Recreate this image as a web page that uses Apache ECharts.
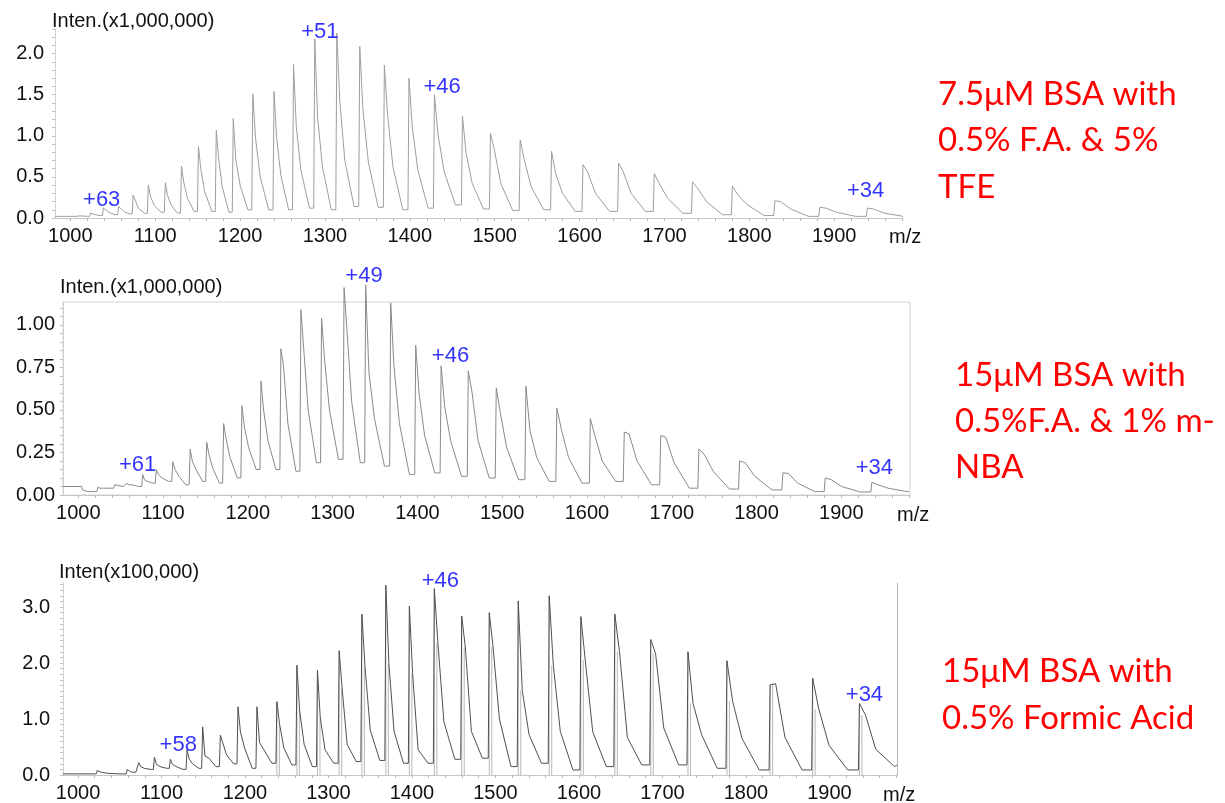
<!DOCTYPE html>
<html>
<head>
<meta charset="utf-8">
<script src="https://cdn.jsdelivr.net/npm/echarts@6/dist/echarts.min.js"></script>
<style>html,body{margin:0;padding:0;background:#fff}#c{width:1225px;height:803px}</style>
</head>
<body>
<div id="c"></div>
<script>
// ---------- tick labels ----------
const xTickLabels = [1000, 1100, 1200, 1300, 1400, 1500, 1600, 1700, 1800, 1900];
const yTicks1 = [0, 0.5, 1.0, 1.5, 2.0];
const yTicks2 = [0, 0.25, 0.5, 0.75, 1.0];
const yTicks3 = [0, 1, 2, 3];

// ---------- spectrum 1: 7.5uM BSA, 0.5% F.A. & 5% TFE (x1,000,000) ----------
const mz1 = [1008,1024,1039,1057,1074,1092,1112,1131,1151,1172,1192,1215,1240,1263,1288,1314,1341,1370,1399,1429,1462,1495,1530,1567,1604,1646,1688,1733,1780,1830,1883,1939];
const apex1 = [0.03,0.06,0.12,0.14,0.28,0.40,0.43,0.63,0.87,1.07,1.21,1.51,1.54,1.87,2.18,2.25,2.09,1.86,1.70,1.50,1.24,1.03,0.95,0.81,0.65,0.67,0.54,0.44,0.39,0.21,0.13,0.12];
const shoulder1 = [0.025,0.05,0.10,0.12,0.22,0.26,0.28,0.44,0.60,0.74,0.71,0.97,0.99,1.11,1.22,1.42,1.32,1.26,1.11,1.01,0.79,0.83,0.71,0.54,0.56,0.56,0.42,0.36,0.28,0.20,0.12,0.11];
const tail1 = [0.025,0.04,0.07,0.08,0.12,0.15,0.16,0.24,0.32,0.38,0.40,0.50,0.52,0.58,0.62,0.70,0.68,0.62,0.58,0.56,0.42,0.42,0.38,0.30,0.30,0.30,0.24,0.20,0.16,0.11,0.07,0.06];
const valley1 = [0.02,0.03,0.04,0.05,0.057,0.07,0.06,0.08,0.08,0.07,0.10,0.10,0.10,0.12,0.10,0.14,0.13,0.10,0.12,0.16,0.11,0.09,0.10,0.08,0.08,0.08,0.057,0.04,0.03,0.02,0.02,0.02];
const ends1 = [[982, 0.02], [1981, 0.02]];
const chargeText1 = ['+63', '+51', '+46', '+34'];
const chargeMz1 = [1037, 1294, 1438, 1937];
const chargeY1 = [0.22, 2.27, 1.60, 0.33];

// ---------- spectrum 2: 15uM BSA, 0.5% F.A. & 1% m-NBA (x1,000,000) ----------
const mz2 = [1005,1023,1043,1057,1076,1092,1111.5,1132,1151.5,1171.5,1193,1215.5,1239,1262.6,1287,1313.5,1339,1368.5,1398,1428,1460,1493,1528,1564.5,1604,1644,1687,1732,1780,1831,1881,1936];
const apex2 = [0.03,0.045,0.06,0.07,0.12,0.15,0.196,0.27,0.31,0.42,0.525,0.67,0.86,1.09,1.04,1.22,1.235,1.13,0.88,0.76,0.73,0.63,0.64,0.51,0.45,0.37,0.35,0.27,0.20,0.13,0.10,0.075];
const shoulder2 = [0.025,0.04,0.05,0.06,0.09,0.12,0.15,0.20,0.24,0.33,0.40,0.50,0.76,0.87,0.80,0.98,0.72,0.76,0.60,0.52,0.61,0.49,0.38,0.39,0.35,0.36,0.34,0.24,0.19,0.127,0.09,0.06];
const tail2 = [0.02,0.04,0.055,0.06,0.08,0.10,0.11,0.15,0.16,0.22,0.28,0.32,0.42,0.50,0.50,0.55,0.45,0.42,0.35,0.32,0.32,0.28,0.22,0.22,0.20,0.20,0.19,0.14,0.11,0.07,0.05,0.04];
const valley2 = [0.02,0.04,0.05,0.05,0.07,0.08,0.06,0.08,0.07,0.10,0.15,0.15,0.14,0.19,0.21,0.19,0.17,0.12,0.13,0.11,0.10,0.09,0.08,0.07,0.08,0.06,0.04,0.035,0.03,0.02,0.018,0.02];
const ends2 = [[982, 0.05], [1980, 0.02]];
const chargeText2 = ['+61', '+49', '+46', '+34'];
const chargeMz2 = [1070, 1337, 1439, 1939];
const chargeY2 = [0.176, 1.29, 0.82, 0.16];

// ---------- spectrum 3: 15uM BSA, 0.5% Formic Acid (x100,000) ----------
const mz3 = [1023,1059,1072.7,1091.5,1110.6,1130.6,1149.3,1170.5,1191.6,1214.3,1238.2,1262.2,1286.8,1312.8,1340,1368.7,1396.9,1426.8,1459.6,1492.6,1527.3,1564.4,1602.3,1643,1686,1730.6,1777.3,1829,1880,1936];
const apex3 = [0.08,0.10,0.22,0.32,0.28,0.45,0.86,0.71,1.22,1.22,1.31,1.96,1.875,2.22,2.875,3.39,3.02,3.33,2.84,2.90,3.11,3.20,2.83,2.875,2.42,2.20,2.04,1.61,1.73,1.28];
const shoulder3 = [0.05,0.07,0.15,0.19,0.19,0.29,0.34,0.58,0.77,0.58,0.92,1.16,1.02,1.55,1.94,1.99,1.81,2.36,2.29,2.29,1.51,1.96,2.05,2.20,2.17,1.28,1.32,1.63,1.18,1.07];
const tail3 = [0.03,0.05,0.12,0.15,0.15,0.20,0.30,0.36,0.48,0.45,0.48,0.55,0.45,0.55,0.80,0.78,0.45,0.95,0.78,1.00,0.72,0.78,0.77,0.67,0.84,0.72,0.65,0.67,0.53,0.46];
const valley3 = [0.02,0.05,0.10,0.12,0.10,0.12,0.15,0.20,0.12,0.21,0.18,0.15,0.21,0.24,0.26,0.21,0.21,0.28,0.30,0.15,0.21,0.09,0.15,0.18,0.18,0.12,0.09,0.09,0.09,0.15];
const ends3 = [[982, 0.02], [1981, 0.18]];
const stickFrom3 = 1238; // peaks from here show drop-to-zero sticks
const chargeText3 = ['+58', '+46', '+34'];
const chargeMz3 = [1120, 1434, 1942];
const chargeY3 = [0.54, 3.47, 1.43];

// ---------- build profile lines from the read peak values ----------
function buildLine(mz, apex, shoulder, tail, valley, ends) {
  const pts = [ends[0]];
  for (let i = 0; i < mz.length; i++) {
    const g = i < mz.length - 1 ? mz[i + 1] - mz[i] : mz[i] - mz[i - 1];
    const prevV = i > 0 ? valley[i - 1] : ends[0][1];
    pts.push([mz[i] - 1.2, prevV]);
    pts.push([mz[i], apex[i]]);
    pts.push([mz[i] + 0.13 * g, shoulder[i]]);
    pts.push([mz[i] + 0.35 * g, tail[i]]);
    pts.push([Math.min(mz[i] + 0.75 * g, ends[1][0]), valley[i]]);
  }
  pts.push(ends[1]);
  return pts;
}
function buildSticks(mz, apex, shoulder, from) {
  const out = [];
  for (let i = 0; i < mz.length; i++) {
    if (mz[i] >= from) {
      out.push([mz[i], apex[i]]);
      out.push([mz[i] + 3, shoulder[i]]);
    }
  }
  return out;
}
function labelData(mz, y) { return mz.map((m, i) => [m, y[i]]); }

const FONT = '"Liberation Sans", Arial, sans-serif';
const minorX = []; for (let v = 1000; v <= 1980; v += 20) minorX.push(v);
function minorY(step, max) { const a = []; for (let k = 0; k * step <= max + 1e-9; k++) a.push(+(k * step).toFixed(3)); return a; }

const grids = [
  { left: 55, width: 848, top: 29, height: 189 },
  { left: 63, width: 847, top: 302, height: 193, show: true, borderColor: '#d4d4d4', borderWidth: 1 },
  { left: 63, width: 834, top: 583, height: 192 }
];

function xAxis(i) {
  return {
    type: 'value', gridIndex: i, min: 982, max: 1981,
    axisLine: { show: true, lineStyle: { color: '#c8c8c8', width: 1 } },
    axisTick: { show: true, customValues: minorX, length: 3, lineStyle: { color: '#b4b4b4' } },
    axisLabel: { customValues: xTickLabels, formatter: v => String(v), margin: 8, fontSize: 20, color: '#111', fontFamily: FONT },
    splitLine: { show: false }
  };
}
function yAxis(i, max, labels, step, dec, margin, pad) {
  return {
    type: 'value', gridIndex: i, min: 0, max: max,
    axisLine: { show: true, lineStyle: { color: '#cfcfcf', width: 1 } },
    axisTick: { show: true, customValues: minorY(step, max), length: 3, lineStyle: { color: '#c0c0c0' } },
    axisLabel: { customValues: labels, formatter: v => v.toFixed(dec), margin: margin, fontSize: 20, color: '#111', fontFamily: FONT, padding: [pad, 0, 0, 0] },
    splitLine: { show: false }
  };
}

function chargeSeries(xi, text, mz, y) {
  return {
    type: 'scatter', xAxisIndex: xi, yAxisIndex: xi, symbolSize: 1, clip: false, silent: true,
    itemStyle: { color: 'rgba(0,0,0,0)' },
    data: labelData(mz, y),
    label: { show: true, position: 'inside', formatter: p => text[p.dataIndex], color: '#0000ff',
      textBorderWidth: 0, textShadowBlur: 0, fontSize: 22, fontFamily: FONT },
    z: 5
  };
}

const option = {
  animation: false,
  backgroundColor: '#ffffff',
  grid: grids,
  xAxis: [xAxis(0), xAxis(1), xAxis(2)],
  yAxis: [
    yAxis(0, 2.3, yTicks1, 0.1, 1, 11, 10),
    yAxis(1, 1.135, yTicks2, 0.05, 2, 8, 0),
    yAxis(2, 3.43, yTicks3, 0.1, 1, 13, 10),
    { type: 'value', gridIndex: 2, position: 'right', min: 0, max: 3.43,
      axisLine: { show: true, lineStyle: { color: '#b8b8b8' } }, axisTick: { show: false },
      axisLabel: { show: false }, splitLine: { show: false } }
  ],
  series: [
    { type: 'line', xAxisIndex: 0, yAxisIndex: 0, showSymbol: false, symbol: 'none',
      lineStyle: { color: '#9e9e9e', width: 1 }, data: buildLine(mz1, apex1, shoulder1, tail1, valley1, ends1) },
    { type: 'line', xAxisIndex: 1, yAxisIndex: 1, showSymbol: false, symbol: 'none', clip: false,
      lineStyle: { color: '#8a8a8a', width: 1 }, data: buildLine(mz2, apex2, shoulder2, tail2, valley2, ends2) },
    { type: 'bar', xAxisIndex: 2, yAxisIndex: 2, barWidth: 1, itemStyle: { color: '#b8b8b8' }, z: 1,
      data: buildSticks(mz3, apex3, shoulder3, stickFrom3) },
    { type: 'line', xAxisIndex: 2, yAxisIndex: 2, showSymbol: false, symbol: 'none', z: 3,
      lineStyle: { color: '#505050', width: 1 }, data: buildLine(mz3, apex3, shoulder3, tail3, valley3, ends3) },
    chargeSeries(0, chargeText1, chargeMz1, chargeY1),
    chargeSeries(1, chargeText2, chargeMz2, chargeY2),
    chargeSeries(2, chargeText3, chargeMz3, chargeY3)
  ],
  graphic: [
    { type: 'text', left: 52, top: 11, style: { text: 'Inten.(x1,000,000)', font: '20px ' + FONT, fill: '#111' } },
    { type: 'text', left: 60, top: 277, style: { text: 'Inten.(x1,000,000)', font: '20px ' + FONT, fill: '#111' } },
    { type: 'text', left: 59, top: 562, style: { text: 'Inten(x100,000)', font: '20px ' + FONT, fill: '#111' } },
    { type: 'text', left: 889, top: 227, style: { text: 'm/z', font: '20px ' + FONT, fill: '#111' } },
    { type: 'text', left: 897, top: 505, style: { text: 'm/z', font: '20px ' + FONT, fill: '#111' } },
    { type: 'text', left: 883, top: 785, style: { text: 'm/z', font: '20px ' + FONT, fill: '#111' } },
    { type: 'text', left: 938, top: 71, style: { text: '7.5μM BSA with\n0.5% F.A. & 5%\nTFE', font: '33px Lato', lineHeight: 46.5, fill: '#ff0000' } },
    { type: 'text', left: 955, top: 352, style: { text: '15μM BSA with\n0.5%F.A. & 1% m-\nNBA', font: '33px Lato', lineHeight: 46, fill: '#ff0000' } },
    { type: 'text', left: 942, top: 648, style: { text: '15μM BSA with\n0.5% Formic Acid', font: '33px Lato', lineHeight: 47, fill: '#ff0000' } }
  ]
};

const chart = echarts.init(document.getElementById('c'), null, { renderer: 'canvas' });
chart.setOption(option);
</script>
</body>
</html>
